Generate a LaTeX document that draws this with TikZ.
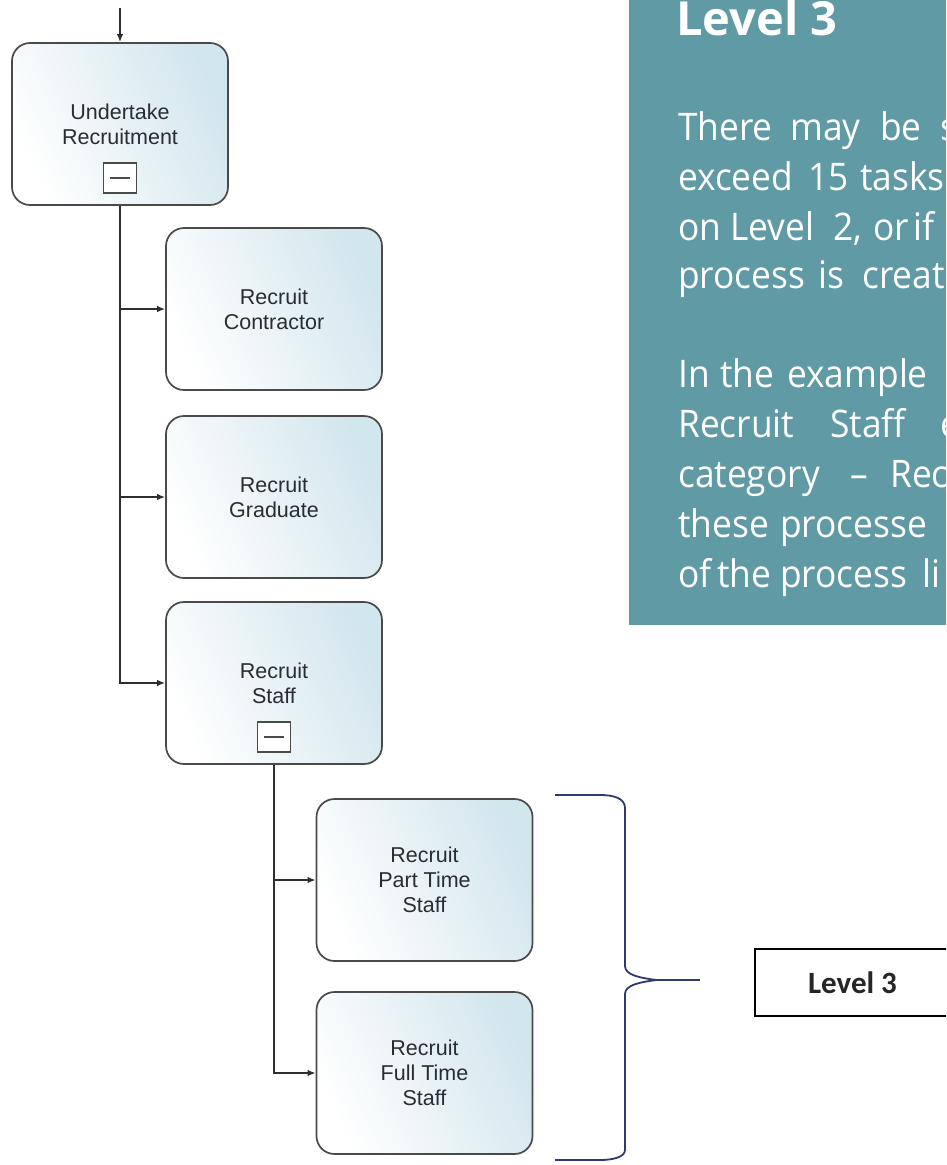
\documentclass[tikz,border=0pt]{standalone}
\usepackage{fontspec}
\setmainfont{Liberation Sans}
\newfontfamily\bodyfont[FakeStretch=0.93]{Open Sans}
\newfontfamily\headfont{Open Sans}
\newfontfamily\labelfont{Carlito}
\usetikzlibrary{arrows.meta}
\definecolor{panelteal}{HTML}{5F9AA5}
\definecolor{boxline}{HTML}{4A4A4A}
\definecolor{boxblue}{HTML}{D2E6ED}
\definecolor{boxtext}{HTML}{2A2C35}
\definecolor{flowline}{HTML}{2E2E2E}
\definecolor{bracketblue}{HTML}{2D3B6E}
\tikzset{
  procbox/.style={draw=boxline, line width=1.7pt, rounded corners=18pt,
    minimum width=216pt, minimum height=162pt, inner sep=0pt,
    left color=white, right color=boxblue, shading angle=115,
    text=boxtext, align=center, font=\fontsize{21.5}{25}\selectfont},
  collapse/.style={draw=boxline, line width=1.4pt, fill=white,
    minimum width=33pt, minimum height=30pt, inner sep=0pt,
    path picture={\draw[boxline, line width=1.4pt]
      ([xshift=-10pt]path picture bounding box.center) --
      ([xshift=10pt]path picture bounding box.center);}},
  flow/.style={draw=flowline, line width=1.7pt,
    -{Latex[length=8pt,width=6.5pt]}},
  bracketline/.style={draw=bracketblue, line width=1.8pt, line join=round},
  bodyword/.style={anchor=base west, inner sep=0pt, text=white,
    font=\bodyfont\fontsize{38}{44}\selectfont},
}
\begin{document}
\begin{tikzpicture}[x=1pt, y=-1pt]
\useasboundingbox (0,0) rectangle (946,1165);
\clip (0,0) rectangle (946,1165);

% explanatory panel
\fill[panelteal] (629,0) rectangle (946,625);
\node[anchor=base west, inner sep=0pt, text=white,
  font=\headfont\bfseries\fontsize{47}{52}\selectfont] (heading) at (676,35) {Level 3};
\foreach \n/\x/\y/\w in {
  a/678/140/There, b/790/140/may, c/880/140/be, d/940/140/s,
  e/678/190/exceed, f/808/190/15, g/860/190/tasks,
  h/678/240/on, i/730/240/Level, j/833/240/{2,}, k/873/240/or, l/913/240/if,
  m/678/288/process, n/818/288/is, o/862/288/creat,
  p/678/387/In, q/720/387/the, r/787/387/example,
  s/678/437/Recruit, t/830/437/Staff, u/940/437/e,
  v/678/487/category, w/850/487/{–}, x/890/487/Rec,
  y/678/537/these, z/780/537/processe,
  aa/678/587/of, ab/717/587/the, ac/780/587/process, ad/922/587/li}
  \node[bodyword] (word-\n) at (\x,\y) {\w};

% process hierarchy
\node[procbox] (ur) at (120,124) {Undertake\\Recruitment};
\node[collapse] (ur-min) at (120,178) {};
\node[procbox] (rc) at (274,309) {Recruit\\Contractor};
\node[procbox] (rg) at (274,497) {Recruit\\Graduate};
\node[procbox] (rs) at (274,683) {Recruit\\Staff};
\node[collapse] (rs-min) at (274,737) {};
\node[procbox] (rp) at (424.5,880) {Recruit\\Part Time\\Staff};
\node[procbox] (rf) at (424.5,1073) {Recruit\\Full Time\\Staff};

\coordinate (entry) at (120,8);
\draw[flow] (entry) -- (ur.north);
\draw[flow] (ur.south) |- (rc.west);
\draw[flow] (ur.south) |- (rg.west);
\draw[flow] (ur.south) |- (rs.west);
\draw[flow] (rs.south) |- (rp.west);
\draw[flow] (rs.south) |- (rf.west);

% brace grouping the level 3 processes
\coordinate (btop) at (555,795);
\coordinate (bbot) at (555,1160);
\coordinate (btip) at (657,980);
\coordinate (bend) at (700,980);
\draw[bracketline] (btop) -- (600,795)
  .. controls (613,795) and (625,798) .. (625,808) -- (625,966)
  .. controls (625,975) and (640,978) .. (btip);
\draw[bracketline] (btip)
  .. controls (640,982) and (625,985) .. (625,994) -- (625,1150)
  .. controls (625,1157) and (613,1160) .. (600,1160) -- (bbot);
\draw[bracketline] (btip) -- (bend);

% level tag
\node[draw=black, line width=1.6pt, minimum width=195pt, minimum height=67pt,
  inner sep=0pt, font=\labelfont\bfseries\fontsize{31}{36}\selectfont,
  text=black!85] (tag) at (852.5,982.5) {Level 3};
\end{tikzpicture}
\end{document}
